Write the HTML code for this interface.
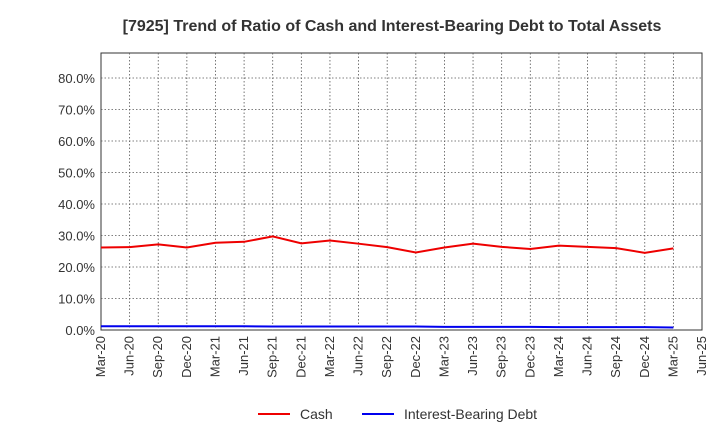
<!DOCTYPE html>
<html><head><meta charset="utf-8"><style>
body{margin:0;background:#fff;font-family:"Liberation Sans",Arial,sans-serif}
svg text{font-family:"Liberation Sans",Arial,sans-serif}
</style></head><body>
<svg id="chart" width="720" height="440" xmlns="http://www.w3.org/2000/svg">
<text x="392" y="31" text-anchor="middle" font-size="16" font-weight="bold" fill="#333">[7925]  Trend of Ratio of Cash and Interest-Bearing Debt to Total Assets</text>
<rect x="101" y="53" width="601" height="277" fill="#fff" stroke="#333" stroke-width="1"/>
<g id="grid"></g><g id="series"></g><g id="axes"></g>
<g>
<line x1="258" y1="414" x2="290" y2="414" stroke="#e00" stroke-width="2"/>
<text x="300" y="419" font-size="14" fill="#333">Cash</text>
<line x1="362" y1="414" x2="394" y2="414" stroke="#00e" stroke-width="2"/>
<text x="404" y="419" font-size="14" fill="#333">Interest-Bearing Debt</text>
</g>
</svg>
<script>
const categories=["Mar-20","Jun-20","Sep-20","Dec-20","Mar-21","Jun-21","Sep-21","Dec-21","Mar-22","Jun-22","Sep-22","Dec-22","Mar-23","Jun-23","Sep-23","Dec-23","Mar-24","Jun-24","Sep-24","Dec-24","Mar-25","Jun-25"];
const cash=[26.2,26.3,27.2,26.2,27.7,28.0,29.7,27.5,28.4,27.4,26.3,24.6,26.2,27.4,26.4,25.7,26.8,26.4,26.0,24.5,25.9];
const debt=[1.2,1.2,1.2,1.2,1.2,1.2,1.1,1.1,1.1,1.1,1.1,1.1,1.0,1.0,1.0,1.0,0.9,0.9,0.9,0.9,0.8];
const yTicks=[0,10,20,30,40,50,60,70,80];
const NS="http://www.w3.org/2000/svg";
const x0=101,x1=702,yB=330,yPer=31.5;
const xs=i=>x0+i*(x1-x0)/(categories.length-1);
const ys=v=>yB-v*yPer/10;
function mk(t,a,p){const e=document.createElementNS(NS,t);for(const k in a)e.setAttribute(k,a[k]);p.appendChild(e);return e;}
const grid=document.getElementById('grid'),axes=document.getElementById('axes'),ser=document.getElementById('series');
yTicks.forEach(v=>{
 if(v>0){const g=mk('line',{x1:x0,x2:x1,y1:ys(v),y2:ys(v),stroke:'#555','stroke-dasharray':'1.5,2','stroke-width':0.8},grid);
 }
 const t=mk('text',{x:95,y:ys(v)+5,'text-anchor':'end','font-size':13,fill:'#333'},axes);t.textContent=v.toFixed(1)+'%';
 
});
categories.forEach((c,i)=>{
 const x=xs(i);
 if(i>0&&i<categories.length-1){const g=mk('line',{x1:x,x2:x,y1:53,y2:yB,stroke:'#555','stroke-dasharray':'1.5,2','stroke-width':0.8},grid);
 }
 const t=mk('text',{x:x+4,y:336,'text-anchor':'end','font-size':13,fill:'#333',transform:`rotate(-90 ${x+4} 336)`},axes);t.textContent=c;
 
});
function line(arr,col,name){const p=mk('polyline',{points:arr.map((v,i)=>xs(i)+','+ys(v)).join(' '),fill:'none',stroke:col,'stroke-width':2},ser);
 }
line(cash,'#e00','cash-line');line(debt,'#00e','debt-line');
</script>
</body></html>
